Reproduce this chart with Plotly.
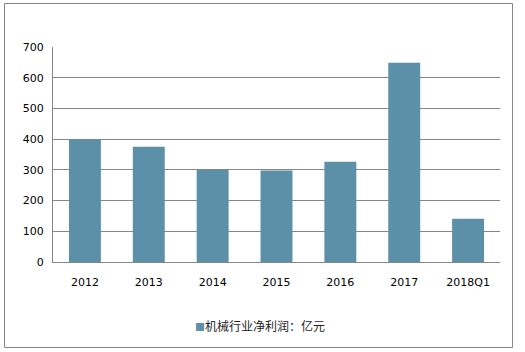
import plotly.graph_objects as go

categories = ["2012", "2013", "2014", "2015", "2016", "2017", "2018Q1"]
values = [400, 375, 300, 298, 326, 649, 141]
series_name = "机械行业净利润：亿元"
y_ticks = [0, 100, 200, 300, 400, 500, 600, 700]
bar_color = "#5B90A8"

L, R, T, B = 53, 25, 47, 90
W, H = 525, 352
pw, ph = W - L - R, H - T - B

def px(x):
    return (x - L) / pw

def py(y):
    return (H - B - y) / ph

fig = go.Figure()
fig.add_trace(go.Bar(
    x=categories, y=values, name=series_name,
    marker=dict(color=bar_color, line=dict(width=0)),
    showlegend=False,
))

fig.update_layout(
    width=W, height=H,
    margin=dict(l=L, r=R, t=T, b=B),
    paper_bgcolor="white", plot_bgcolor="white",
    bargap=0.5,
    font=dict(family="DejaVu Sans, Noto Sans CJK SC", size=11, color="#000000"),
    xaxis=dict(
        type="category", showgrid=False, showline=True, linecolor="#868686", linewidth=1,
        ticks="", tickfont=dict(size=11), ticklabelstandoff=10,
    ),
    yaxis=dict(
        range=[0, 700], tickvals=y_ticks, showgrid=True, gridcolor="#868686", gridwidth=1,
        showline=True, linecolor="#868686", linewidth=1, ticks="", ticklabelstandoff=6,
        zeroline=False, tickfont=dict(size=11),
    ),
    annotations=[dict(
        xref="paper", yref="paper", x=px(260), y=py(325), xanchor="center", yanchor="middle",
        showarrow=False,
        text="<span style='color:%s;font-size:10px'>■</span>%s" % (bar_color, series_name),
        font=dict(family="Noto Sans CJK SC", size=12, color="#222222"),
    )],
    shapes=[dict(
        type="rect", xref="paper", yref="paper",
        x0=px(4.5), x1=px(512.5), y0=py(347.5), y1=py(3.5),
        line=dict(color="#868686", width=1), fillcolor="rgba(0,0,0,0)", layer="below",
    )],
)

fig.write_html("out.html")
